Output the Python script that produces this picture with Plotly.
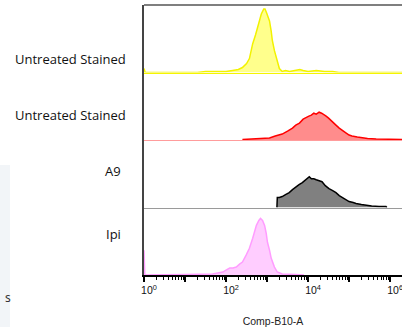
import plotly.graph_objects as go
from plotly.subplots import make_subplots

# ---- data (x in log10 units of Comp-B10-A, y = event count, arbitrary units) ----
yellow_logx = [0.0, 0.03, 1.3, 1.5, 1.8, 2.0, 2.16, 2.3, 2.40, 2.5, 2.57, 2.65, 2.72, 2.77, 2.82, 2.86,
               2.92, 2.95, 2.99, 3.03, 3.06, 3.10, 3.13, 3.18, 3.23, 3.27, 3.30, 3.37, 3.45, 3.55,
               3.7, 3.8, 3.88, 4.0, 4.2, 4.4, 4.6, 4.75, 5.1, 6.29]
yellow_cnt = [4, 0, 0, 1, 1, 1, 2, 3, 5, 9, 14, 29, 38, 45, 53, 59,
              64, 64, 60, 56, 52, 42, 32, 22, 15, 8, 4, 1, 2, 1,
              2, 3, 2, 1, 2, 1, 1, 0, 0, 0]

red_logx = [2.40, 2.6, 2.82, 2.95, 3.06, 3.2, 3.37, 3.5, 3.62, 3.7, 3.79, 3.88, 3.96, 4.02, 4.08,
            4.14, 4.2, 4.27, 4.33, 4.38, 4.44, 4.5, 4.59, 4.68, 4.76, 4.85, 4.93, 5.0, 5.07,
            5.2, 5.32, 5.45, 5.66, 5.8, 5.97, 6.1, 6.29]
red_cnt = [0.5, 1, 1, 2, 2, 4, 6, 9, 12, 15, 17, 21, 23, 24, 25,
           27, 26, 28, 27, 26, 24, 22, 18, 15, 12, 9, 7, 5, 4,
           3, 2, 1.5, 1, 1, 1, 0.5, 0.5]

a9_logx = [3.24, 3.25, 3.30, 3.37, 3.45, 3.54, 3.62, 3.71, 3.78, 3.86, 3.92, 3.97, 4.03, 4.08,
           4.14, 4.20, 4.27, 4.34, 4.42, 4.51, 4.6, 4.68, 4.76, 4.83, 4.92, 5.0, 5.1, 5.17,
           5.3, 5.41, 5.55, 5.73, 5.9, 5.92]
a9_cnt = [0, 10, 10, 11, 13, 15, 18, 21, 23, 25, 27, 29, 31, 29,
          29, 28, 27, 26, 22, 19, 17, 15, 12, 10, 8, 6, 5, 4,
          3, 2, 1.5, 1, 1, 0]

ipi_logx = [0.0, 0.02, 1.0, 1.3, 1.5, 1.67, 1.8, 1.92, 2.0, 2.09, 2.17, 2.25, 2.33, 2.40, 2.49,
            2.57, 2.65, 2.70, 2.74, 2.80, 2.84, 2.89, 2.94, 2.98, 3.01, 3.06, 3.10, 3.18,
            3.25, 3.37, 3.5, 3.7, 3.9]
ipi_cnt = [25, 0, 0.5, 1, 1, 1, 2, 3, 5, 7, 7, 8, 11, 13, 20,
           27, 37, 44, 50, 55, 57, 55, 50, 42, 33, 25, 17, 8,
           3, 1, 1, 0.5, 0]

sample_labels = ["Untreated Stained", "Untreated Stained", "A9", "Ipi"]
tick_decades = [0, 1, 2, 3, 4, 5, 6]
tick_text = ["10<sup>0</sup>", "", "10<sup>2</sup>", "", "10<sup>4</sup>", "", "10<sup>6</sup>"]
axis_title = "Comp-B10-A"

series = [
    (yellow_logx, yellow_cnt, "#f2f200", "rgba(255,255,120,0.85)"),
    (red_logx, red_cnt, "#ff0000", "rgba(255,120,120,0.85)"),
    (a9_logx, a9_cnt, "#000000", "rgba(128,128,128,1)"),
    (ipi_logx, ipi_cnt, "#ff9cff", "rgba(255,200,255,0.9)"),
]
sep_colors = ["#f5f500", "#ff9c9c", "#9a9a9a", "#000000"]

fig = make_subplots(rows=4, cols=1, shared_xaxes=True, vertical_spacing=0)

for i, (lx, cnt, lc, fc) in enumerate(series):
    fig.add_trace(go.Scatter(
        x=[10 ** v for v in lx], y=cnt, mode="lines",
        line=dict(color=lc, width=1.5), fill="tozeroy", fillcolor=fc,
        showlegend=False, hoverinfo="skip"), row=i + 1, col=1)
    fig.update_yaxes(range=[0, 68], showline=True, linecolor="#444", linewidth=1.5,
                     showticklabels=False, ticks="", showgrid=False, zeroline=False,
                     row=i + 1, col=1)
    fig.update_xaxes(type="log", range=[0, 6.29], showline=True, linecolor=sep_colors[i],
                     linewidth=1 if i < 3 else 1.5, showgrid=False, zeroline=False,
                     row=i + 1, col=1)

fig.update_xaxes(
    tickvals=[10 ** d for d in tick_decades], ticktext=tick_text,
    ticks="outside", ticklen=5, tickwidth=1.5, tickcolor="#000",
    ticklabelshift=5, ticklabeloverflow="allow",
    minor=dict(ticks="outside", ticklen=3, tickwidth=1, tickcolor="#000", dtick="D1"),
    tickfont=dict(family="Liberation Sans, Arial", size=10.5, color="#111"),
    title=dict(text=axis_title, font=dict(family="Liberation Sans, Arial", size=10.5, color="#222"),
               standoff=22),
    row=4, col=1)

# frame line at top
fig.add_shape(type="line", xref="paper", yref="paper", x0=0, x1=1, y0=1, y1=1,
              line=dict(color="#555", width=1.5))

# faint box at lower left
fig.add_shape(type="rect", xref="paper", yref="paper",
              x0=-144 / 258, x1=-134 / 258, y0=-52 / 270, y1=110 / 270,
              fillcolor="#f2f5f8", line=dict(width=0), layer="below")
fig.add_annotation(text="s", xref="paper", yref="paper", x=-141 / 258, y=-33 / 270,
                   showarrow=False, font=dict(family="Noto Sans", size=12, color="#333"))

label_pos = [(128, 59, "right"), (128, 115, "right"), (113, 171, "center"), (113, 234, "center")]
for txt, (px, py, anc) in zip(sample_labels, label_pos):
    fig.add_annotation(text=txt, xref="paper", yref="paper",
                       x=(px - 144) / 258, y=(275 - py) / 270, xanchor=anc, yanchor="middle",
                       showarrow=False, font=dict(family="Open Sans", size=13, color="#111"))

fig.update_layout(width=402, height=327, margin=dict(l=144, r=0, t=5, b=52),
                  paper_bgcolor="white", plot_bgcolor="white")

fig.write_html("out.html", config={"displayModeBar": False},
               post_script="document.body.style.margin='0px';")
